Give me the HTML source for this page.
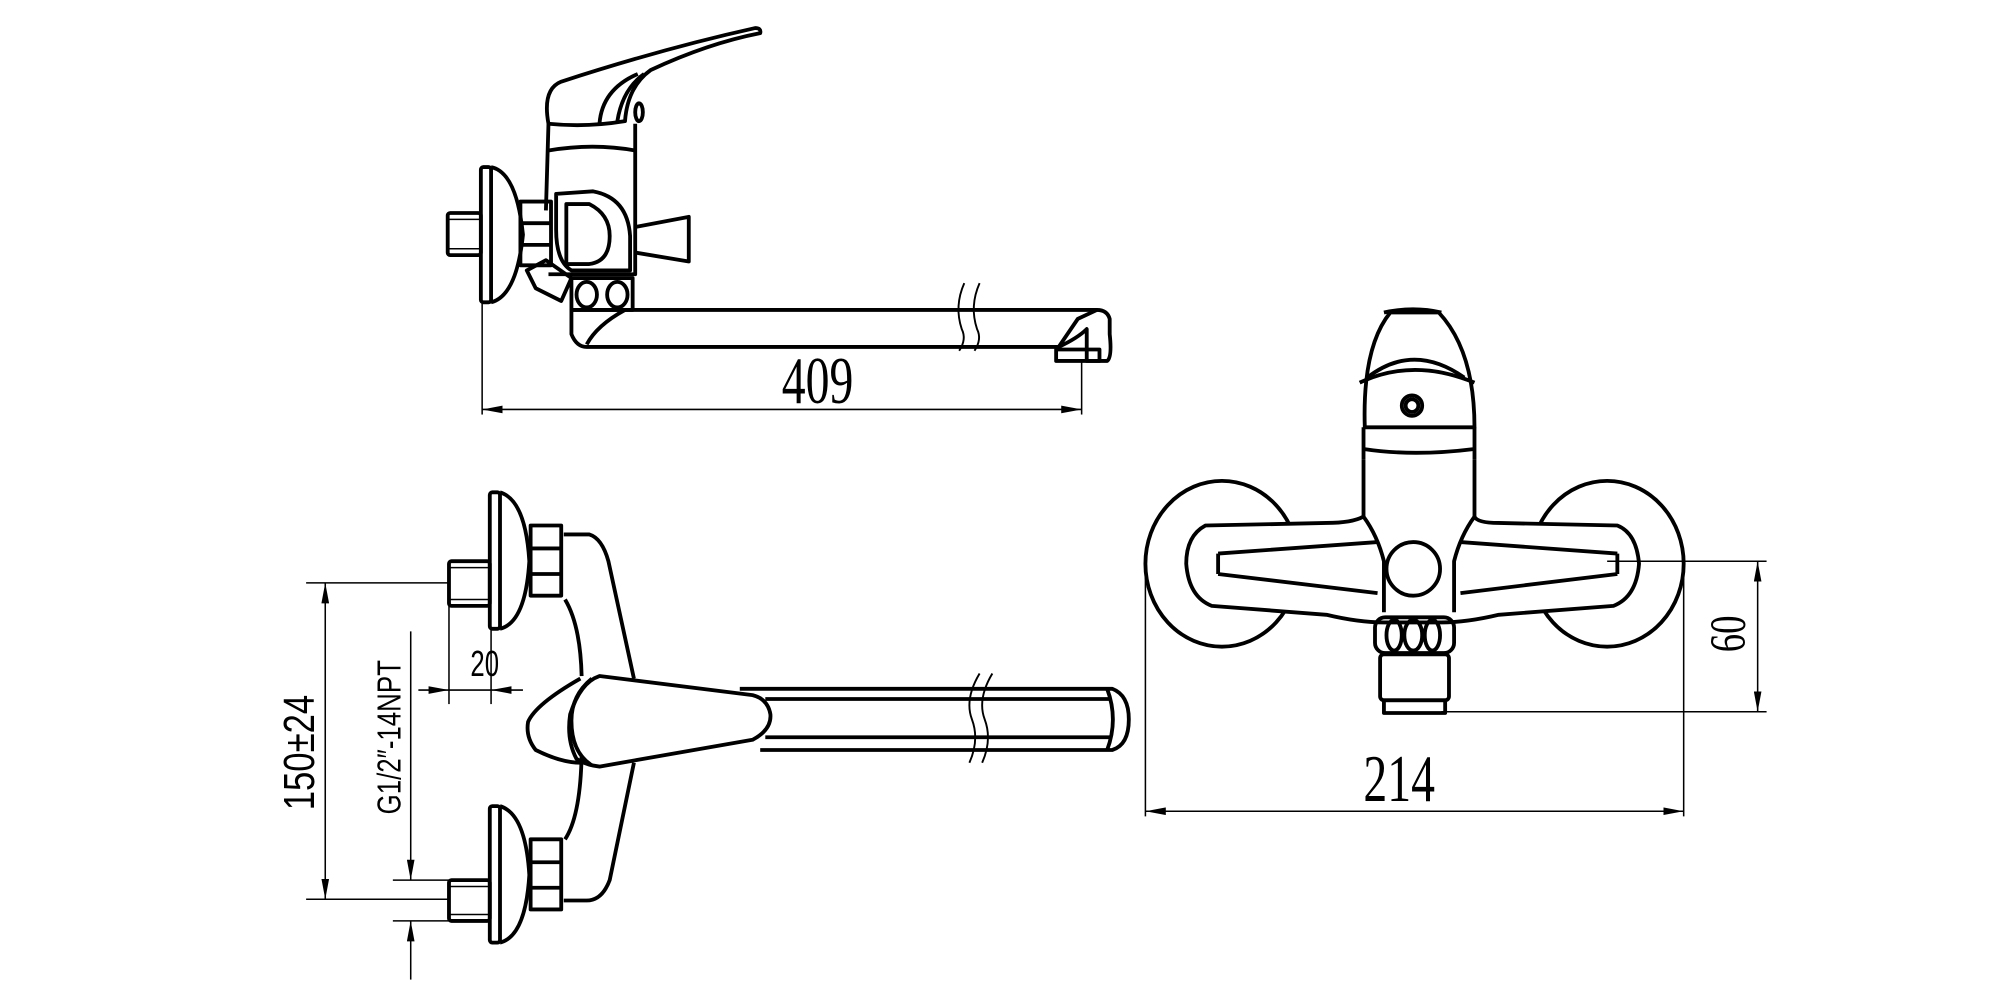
<!DOCTYPE html>
<html><head><meta charset="utf-8"><style>
html,body{margin:0;padding:0;background:#fff;}
svg{display:block;}
</style></head><body>
<svg width="2000" height="1000" viewBox="0 0 1568 784" xmlns="http://www.w3.org/2000/svg">
<defs>
<marker id="a" viewBox="0 0 16 6" refX="16" refY="3" markerWidth="16" markerHeight="6" markerUnits="userSpaceOnUse" orient="auto-start-reverse"><path d="M0,0 L16,3 L0,6 Z" fill="#000"/></marker>
</defs>
<g fill="none" stroke="#000" stroke-width="3" stroke-linejoin="round">
<!-- ===== TOP SIDE VIEW ===== -->
<rect x="351" y="167" width="26" height="33" rx="2"/>
<line x1="351" y1="172" x2="377" y2="172" stroke-width="1.2"/>
<line x1="351" y1="195" x2="377" y2="195" stroke-width="1.2"/>
<rect x="377" y="131" width="8" height="106" rx="2"/>
<path d="M385,131 Q405,135 410,184 Q405,232 385,237"/>
<rect x="408" y="158" width="24" height="50"/>
<line x1="408" y1="175" x2="432" y2="175"/><line x1="408" y1="192" x2="432" y2="192"/>
<path d="M430,97 L428,165 M498,97 L498,215 L430,215"/>
<path d="M430,118 Q465,112 498,118"/>
<path d="M430,97 Q425,70 440,64 Q520,38 592,22 Q597,22 596,26 Q555,34 510,55 Q492,68 490,95 Q460,100 430,97 Z"/>
<path d="M470,97 Q472,70 500,58 M484,95 Q488,70 505,58"/>
<ellipse cx="501" cy="88" rx="3" ry="7"/>
<path d="M436,152 L465,150 Q492,155 494,185 L494,212 L448,212 Q436,205 436,180 Z"/>
<path d="M444,160 L462,160 Q478,168 478,185 Q478,205 462,207 L444,207 Z"/>
<path d="M498,178 L540,170 L540,205 L498,198"/>
<path d="M413,212 L428,204 L448,218 L440,236 L420,226 Z"/>
<rect x="448" y="218" width="48" height="25"/>
<ellipse cx="460" cy="231" rx="8" ry="10"/><ellipse cx="484" cy="231" rx="8" ry="10"/>
<path d="M448,243 L448,262 Q452,272 460,272 L830,272 Q845,265 852,258 L852,283 L868,283 Q872,280 870,262 L870,250 Q868,243 860,243 Z"/>
<path d="M460,270 Q468,255 490,243"/>
<path d="M830,272 L845,250 L860,243"/>
<rect x="828" y="274" width="34" height="9"/>
<path d="M756,222 Q748,240 754,258 Q758,266 752,275 M768,222 Q760,240 766,258 Q770,266 764,275" stroke-width="1.5"/>
<!-- ===== BOTTOM LEFT VIEW ===== -->
<g>
<rect x="352" y="440" width="32" height="35" rx="2"/>
<line x1="352" y1="445" x2="384" y2="445" stroke-width="1.2"/>
<line x1="352" y1="470" x2="384" y2="470" stroke-width="1.2"/>
<rect x="384" y="386" width="8" height="107" rx="2"/>
<path d="M392,386 Q412,392 415,440 Q412,488 392,493"/>
<rect x="416" y="412" width="24" height="55"/>
<line x1="416" y1="430" x2="440" y2="430"/><line x1="416" y1="450" x2="440" y2="450"/>
</g>
<g transform="translate(0,246)">
<rect x="352" y="444" width="32" height="32" rx="2"/>
<line x1="352" y1="449" x2="384" y2="449" stroke-width="1.2"/>
<line x1="352" y1="471" x2="384" y2="471" stroke-width="1.2"/>
<rect x="384" y="386" width="8" height="107" rx="2"/>
<path d="M392,386 Q412,392 415,440 Q412,488 392,493"/>
<rect x="416" y="412" width="24" height="55"/>
<line x1="416" y1="430" x2="440" y2="430"/><line x1="416" y1="450" x2="440" y2="450"/>
</g>
<path d="M442,419 L462,419 Q472,422 477,440 L497,532"/>
<path d="M443,470 Q455,490 456,530"/>
<path d="M497,598 L478,690 Q472,706 460,706 L442,706"/>
<path d="M456,592 Q455,640 443,658"/>
<path d="M455,532 Q420,552 414,566 Q412,578 420,588 Q440,598 455,598"/>
<path d="M470,530 Q455,535 447,560 Q444,580 452,595 Q460,600 470,601 L590,580 Q605,572 604,560 Q602,548 590,545 L470,530 Z"/>
<path d="M464,532 Q448,545 448,565 Q448,590 464,600"/>
<path d="M580,540 L872,540 Q885,545 885,564 Q885,584 872,588 L596,588"/>
<line x1="600" y1="548" x2="870" y2="548"/><line x1="600" y1="578" x2="870" y2="578"/>
<path d="M868,540 Q877,564 868,588"/>
<path d="M768,528 Q756,548 762,564 Q768,580 760,598 M778,528 Q766,548 772,564 Q778,580 770,598" stroke-width="1.5"/>
<!-- ===== RIGHT FRONT VIEW ===== -->
<ellipse cx="958" cy="442" rx="60" ry="65"/>
<ellipse cx="1260" cy="442" rx="60" ry="65"/>
<path d="M1070,335 Q1068,272 1090,245 L1128,245 Q1156,275 1156,335 Z" fill="#fff"/>
<path d="M1085,245 Q1108,240 1130,245"/>
<path d="M1066,300 Q1108,280 1156,300"/>
<path d="M1072,296 Q1108,268 1148,296"/>
<circle cx="1107" cy="318" r="8"/><circle cx="1107" cy="318" r="5"/>
<path d="M1069,335 L1069,360 M1156,335 L1156,360 M1069,352 Q1108,358 1156,352"/>
<path d="M1069,360 L1069,405 Q1060,410 1040,410 L945,412 Q930,420 930,442 Q932,468 950,475 L1040,482 Q1065,488 1085,488 L1130,488 Q1150,488 1175,482 L1265,475 Q1283,468 1285,442 Q1283,418 1268,412 L1175,410 Q1158,410 1156,405 L1156,360" fill="#fff"/>
<path d="M1069,405 Q1080,420 1085,440 L1085,480"/>
<path d="M1156,405 Q1145,420 1140,440 L1140,480"/>
<path d="M955,434 L1080,425 M955,450 L1080,465 M955,434 L955,450"/>
<path d="M1268,434 L1145,425 M1268,450 L1145,465 M1268,434 L1268,450"/>
<circle cx="1108" cy="446" r="21"/>
<rect x="1078" y="484" width="62" height="28" rx="8"/>
<ellipse cx="1093" cy="498" rx="6" ry="12"/><ellipse cx="1108" cy="498" rx="7" ry="12"/><ellipse cx="1123" cy="498" rx="6" ry="12"/>
<rect x="1082" y="513" width="54" height="36" rx="3"/>
<rect x="1085" y="549" width="48" height="10"/>
</g>
<!-- ===== DIMENSIONS ===== -->
<g stroke="#000" stroke-width="1.2" fill="none">
<line x1="378" y1="237" x2="378" y2="325"/>
<line x1="848" y1="283" x2="848" y2="325"/>
<line x1="378" y1="321" x2="848" y2="321" marker-start="url(#a)" marker-end="url(#a)"/>
<line x1="240" y1="457" x2="352" y2="457"/>
<line x1="240" y1="705" x2="352" y2="705"/>
<line x1="255" y1="457" x2="255" y2="705" marker-start="url(#a)" marker-end="url(#a)"/>
<line x1="322" y1="495" x2="322" y2="690" marker-end="url(#a)"/>
<line x1="322" y1="768" x2="322" y2="722" marker-end="url(#a)"/>
<line x1="308" y1="690" x2="352" y2="690"/>
<line x1="308" y1="722" x2="352" y2="722"/>
<line x1="352" y1="475" x2="352" y2="552"/>
<line x1="385" y1="493" x2="385" y2="552"/>
<line x1="328" y1="541" x2="352" y2="541" marker-end="url(#a)"/>
<line x1="410" y1="541" x2="385" y2="541" marker-end="url(#a)"/>
<line x1="352" y1="541" x2="385" y2="541"/>
<line x1="898" y1="445" x2="898" y2="640"/>
<line x1="1320" y1="440" x2="1320" y2="640"/>
<line x1="898" y1="636" x2="1320" y2="636" marker-start="url(#a)" marker-end="url(#a)"/>
<line x1="1260" y1="440" x2="1385" y2="440"/>
<line x1="1130" y1="558" x2="1385" y2="558"/>
<line x1="1378" y1="440" x2="1378" y2="558" marker-start="url(#a)" marker-end="url(#a)"/>
</g>
<g font-family="'Liberation Serif',serif" fill="#000">
<text transform="translate(641,316) scale(0.72,1)" font-size="52" text-anchor="middle">409</text>
<text transform="translate(1097,628) scale(0.72,1)" font-size="52" text-anchor="middle">214</text>
<text transform="translate(1368,497) rotate(-90) scale(0.72,1)" font-size="40" text-anchor="middle">60</text>
</g>
<g font-family="'Liberation Sans',sans-serif" fill="#000">
<text transform="translate(380,530) scale(0.72,1)" font-size="28" text-anchor="middle">20</text>
<text transform="translate(246,590) rotate(-90) scale(0.8,1)" font-size="34" text-anchor="middle">150±24</text>
<text transform="translate(314,578) rotate(-90) scale(0.78,1)" font-size="26" text-anchor="middle">G1/2″-14NPT</text>
</g>
</svg>
</body></html>
